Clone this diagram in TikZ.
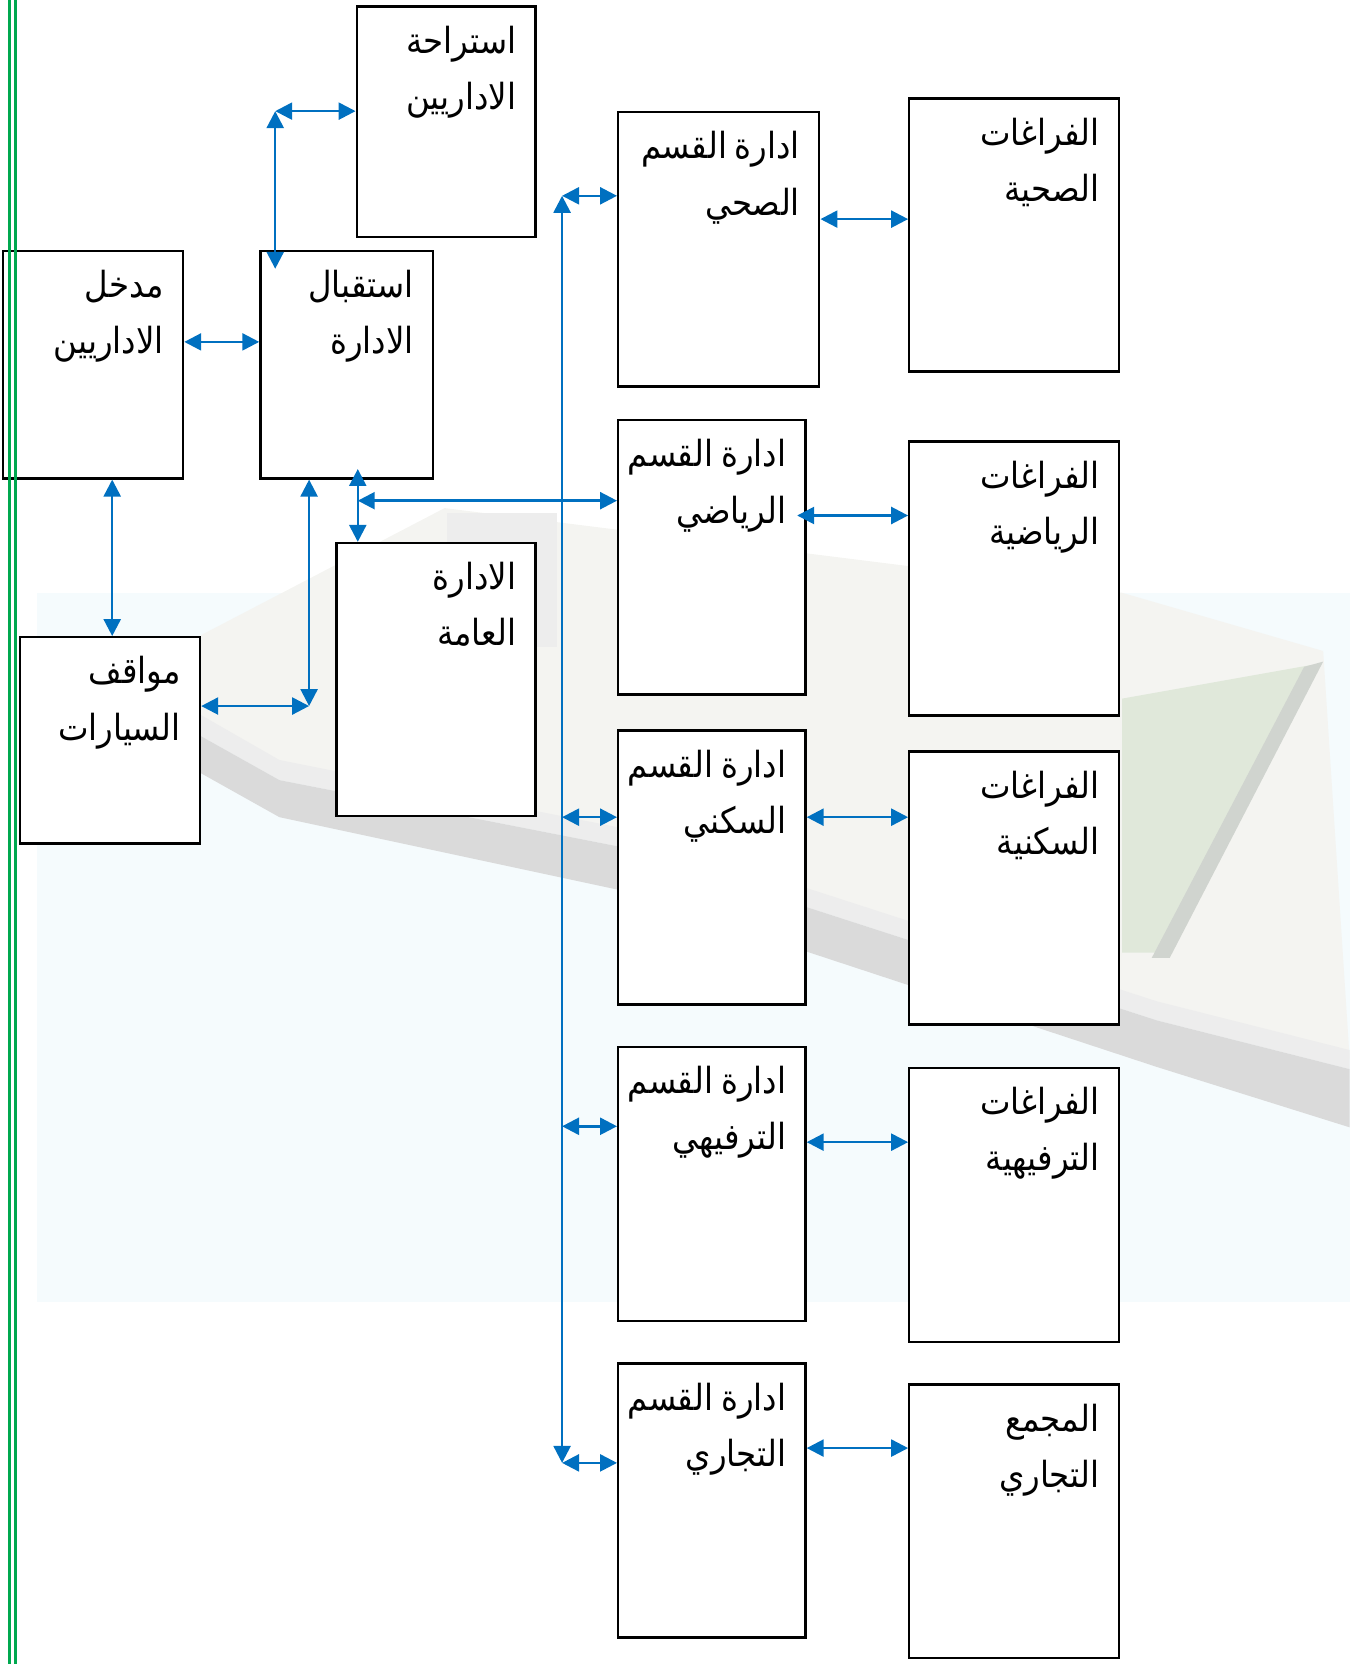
\documentclass[tikz,border=0pt]{standalone}
\usepackage{fontspec}
\newfontfamily\arabicfont[Script=Arabic,FakeStretch=0.9]{DejaVu Sans}
\TeXXeTstate=1
\usetikzlibrary{arrows.meta,fit}
\definecolor{arblue}{HTML}{0070C0}
\definecolor{argreen}{HTML}{00A84F}
\definecolor{roadgray}{HTML}{DADADA}
\definecolor{walkgray}{HTML}{EDEDED}
\definecolor{tint}{HTML}{F5FBFD}
\definecolor{resort}{HTML}{F4F4F1}
\definecolor{lawn}{HTML}{E0E8DA}
\definecolor{trees}{HTML}{D0D4CF}
\newcommand\artxt[1]{\beginR #1\endR}
\newcommand\arlblfont{\arabicfont\fontsize{17}{26.5}\selectfont\spaceskip=0.22em\relax}
\begin{document}
\begin{tikzpicture}[x=0.5pt,y=-0.5pt,
  box/.style={draw=black, line width=1.1pt, fill=white, inner sep=0pt},
  lbl/.style={anchor=north east, inner sep=0pt, align=right, font=\arlblfont},
  link/.style={draw=arblue, line width=1.2pt, <->, >={Triangle[length=8pt,width=8pt]}},
  rail/.style={draw=argreen, line width=1.5pt}]
\useasboundingbox (0,0) rectangle (1280,1572);
% ---- faint background picture
\fill[tint] (35,560) rectangle (1275,1230);
\fill[resort] (190,600) -- (420,480) -- (1060,560) -- (1250,615) -- (1275,1000) -- (1093,955) -- (586,790) -- (264,727) -- (189,688) -- cycle;
\fill[lawn] (1060,660) -- (1240,628) -- (1095,900) -- (1060,900) -- cycle;
\fill[trees] (1232,630) -- (1250,625) -- (1105,905) -- (1088,905) -- cycle;
\fill[gray!14] (422,485) rectangle (526,611);
\fill[walkgray] (189,675) -- (264,718) -- (586,782) -- (1093,946) -- (1275,992) -- (1275,1010) -- (1093,964) -- (586,800) -- (264,737) -- (189,695) -- cycle;
\fill[roadgray] (189,695) -- (264,737) -- (586,800) -- (1093,964) -- (1275,1010) -- (1275,1065) -- (1093,1008) -- (586,841) -- (264,772) -- (189,730) -- cycle;
% ---- boxes
\node[box, fit={(337,6) (506,224)}] (rest) {};
\node[box, fit={(3,237) (173,452)}] (madkhal) {};
\node[box, fit={(246,237) (409,452)}] (istq) {};
\node[box, fit={(19,602) (189,797)}] (mawaqif) {};
\node[box, fit={(318,513) (506,771)}] (amma) {};
\node[box, fit={(584,106) (774,365)}] (sihhi) {};
\node[box, fit={(584,397) (761,656)}] (riyadi) {};
\node[box, fit={(584,690) (761,949)}] (sakani) {};
\node[box, fit={(584,989) (761,1248)}] (tarfihi) {};
\node[box, fit={(584,1288) (761,1547)}] (tijari) {};
\node[box, fit={(859,93) (1057,351)}] (fsihha) {};
\node[box, fit={(859,417) (1057,676)}] (friyada) {};
\node[box, fit={(859,710) (1057,968)}] (fsakan) {};
\node[box, fit={(859,1009) (1057,1268)}] (ftarfih) {};
\node[box, fit={(859,1308) (1057,1566)}] (mujamma) {};
% ---- labels
\node[lbl] (trest) at ([xshift=-9.5pt,yshift=-9.5pt]rest.north east) {\artxt{استراحة}\\\artxt{الاداريين}};
\node[lbl] (tmadkhal) at ([xshift=-9.5pt,yshift=-9.5pt]madkhal.north east) {\artxt{مدخل}\\\artxt{الاداريين}};
\node[lbl] (tistq) at ([xshift=-9.5pt,yshift=-9.5pt]istq.north east) {\artxt{استقبال}\\\artxt{الادارة}};
\node[lbl] (tmawaqif) at ([xshift=-9.5pt,yshift=-9.5pt]mawaqif.north east) {\artxt{مواقف}\\\artxt{السيارات}};
\node[lbl] (tamma) at ([xshift=-9.5pt,yshift=-9.5pt]amma.north east) {\artxt{الادارة}\\\artxt{العامة}};
\node[lbl] (tsihhi) at ([xshift=-9.5pt,yshift=-9.5pt]sihhi.north east) {\artxt{ادارة القسم}\\\artxt{الصحي}};
\node[lbl] (triyadi) at ([xshift=-9.5pt,yshift=-9.5pt]riyadi.north east) {\artxt{ادارة القسم}\\\artxt{الرياضي}};
\node[lbl] (tsakani) at ([xshift=-9.5pt,yshift=-9.5pt]sakani.north east) {\artxt{ادارة القسم}\\\artxt{السكني}};
\node[lbl] (ttarfihi) at ([xshift=-9.5pt,yshift=-9.5pt]tarfihi.north east) {\artxt{ادارة القسم}\\\artxt{الترفيهي}};
\node[lbl] (ttijari) at ([xshift=-9.5pt,yshift=-9.5pt]tijari.north east) {\artxt{ادارة القسم}\\\artxt{التجاري}};
\node[lbl] (tfsihha) at ([xshift=-9.5pt,yshift=-9.5pt]fsihha.north east) {\artxt{الفراغات}\\\artxt{الصحية}};
\node[lbl] (tfriyada) at ([xshift=-9.5pt,yshift=-9.5pt]friyada.north east) {\artxt{الفراغات}\\\artxt{الرياضية}};
\node[lbl] (tfsakan) at ([xshift=-9.5pt,yshift=-9.5pt]fsakan.north east) {\artxt{الفراغات}\\\artxt{السكنية}};
\node[lbl] (tftarfih) at ([xshift=-9.5pt,yshift=-9.5pt]ftarfih.north east) {\artxt{الفراغات}\\\artxt{الترفيهية}};
\node[lbl] (tmujamma) at ([xshift=-9.5pt,yshift=-9.5pt]mujamma.north east) {\artxt{المجمع}\\\artxt{التجاري}};
% ---- connectors
\coordinate (j1) at (260,105);
\path (istq.north -| j1) ++(0,18) coordinate (istqin);
\draw[link] (j1) -- (rest.west |- j1);
\draw[link] (j1) -- (istqin);
\draw[link] (madkhal.east |- 0,323) -- (istq.west |- 0,323);
\draw[link] (madkhal.south -| 106,0) -- (mawaqif.north -| 106,0);
\coordinate (j2) at (292,667);
\draw[link] (istq.south -| j2) -- (j2);
\draw[link] (mawaqif.east |- j2) -- (j2);
\coordinate (j3) at (338,473);
\path (istq.south -| j3) ++(0,-10) coordinate (istqb);
\draw[link] (istqb) -- (amma.north -| j3);
\draw[link] (j3) -- (riyadi.west |- j3);
\coordinate (b1) at (531,185);
\coordinate (b2) at (531,1382);
\draw[link] (b1) -- (b2);
\draw[link] (b1) -- (sihhi.west |- b1);
\draw[link] (b1 |- 0,772) -- (sakani.west |- 0,772);
\draw[link] (b1 |- 0,1064) -- (tarfihi.west |- 0,1064);
\draw[link] (b2) -- (tijari.west |- b2);
\draw[link] (sihhi.east |- 0,207) -- (fsihha.west |- 0,207);
\path (riyadi.east |- 0,487) ++(-9,0) coordinate (rr);
\draw[link] (rr) -- (friyada.west |- rr);
\draw[link] (sakani.east |- 0,772) -- (fsakan.west |- 0,772);
\draw[link] (tarfihi.east |- 0,1079) -- (ftarfih.west |- 0,1079);
\draw[link] (tijari.east |- 0,1368) -- (mujamma.west |- 0,1368);
% ---- green page rule
\draw[rail] (9,0) -- (9,1572);
\draw[rail] (14.5,0) -- (14.5,1572);
\end{tikzpicture}
\end{document}
